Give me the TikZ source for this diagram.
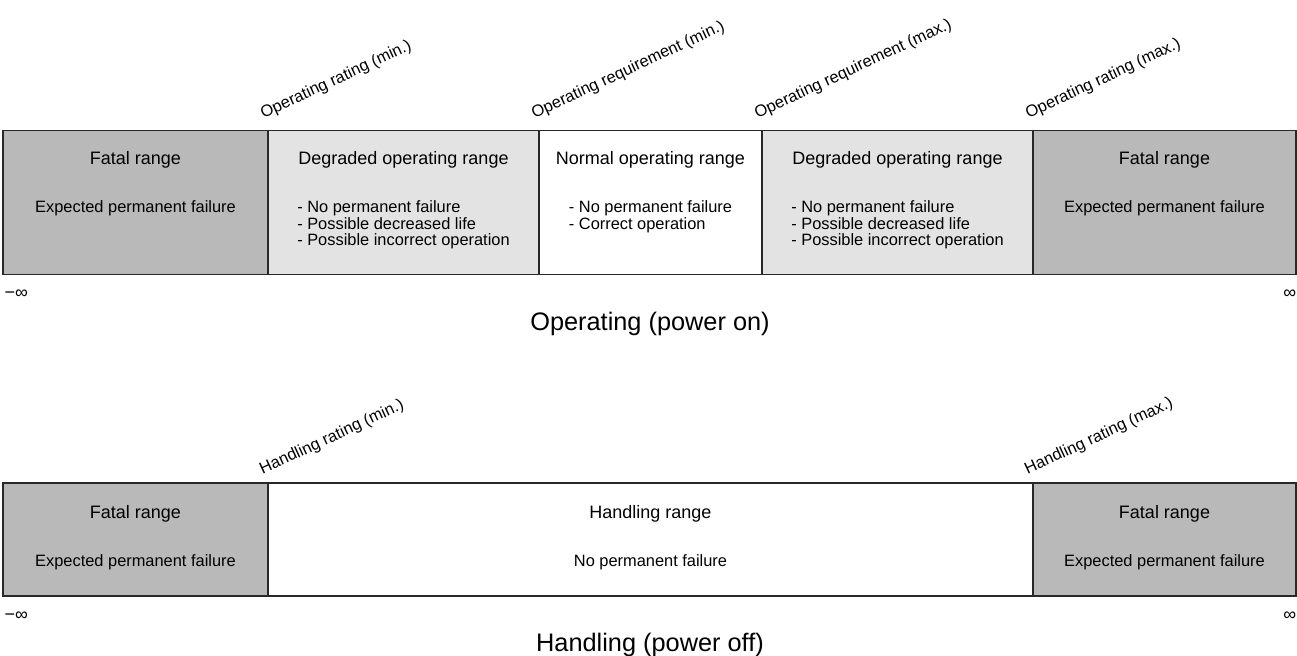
\documentclass[tikz,border=0pt]{standalone}
\usepackage{fontspec}
\setmainfont{Liberation Sans}
\definecolor{fatalgray}{RGB}{185,185,185}
\definecolor{degradedgray}{RGB}{227,227,227}
\definecolor{edgegray}{RGB}{40,40,40}
\tikzset{every picture/.style={line width=1.1pt}}
\tikzset{
  fatalbox/.style={draw=edgegray,fill=fatalgray},
  degradedbox/.style={draw=edgegray,fill=degradedgray},
  normalbox/.style={draw=edgegray,fill=white},
  boxtitle/.style={anchor=base,inner sep=0pt,font=\fontsize{13.5}{16}\selectfont},
  boxtext/.style={anchor=base,inner sep=0pt,align=left,font=\fontsize{12.3}{12.45}\selectfont},
  ratinglabel/.style={anchor=base west,inner sep=0pt,rotate=25,font=\fontsize{12.3}{14}\selectfont},
  rowtitle/.style={anchor=base,inner sep=0pt,font=\fontsize{19}{22}\selectfont},
  inftylabel/.style={inner sep=0pt,font=\fontsize{13.5}{16}\selectfont},
}
\begin{document}
\begin{tikzpicture}[x=0.75pt,y=0.75pt,yscale=-1,xscale=1]
  \useasboundingbox (0,0) rectangle (1297,656);
  %Operating row boxes
  \draw[fatalbox] (3,130.5) rectangle (268,274.5);
  \draw[degradedbox] (268,130.5) rectangle (539,274.5);
  \draw[normalbox] (539,130.5) rectangle (762,274.5);
  \draw[degradedbox] (762,130.5) rectangle (1033,274.5);
  \draw[fatalbox] (1033,130.5) rectangle (1296,274.5);

  % Text Node
  \node[ratinglabel] (oprmin) at (263,119) {Operating rating (min.)};
  \node[ratinglabel] (opqmin) at (534,119) {Operating requirement (min.)};
  \node[ratinglabel] (opqmax) at (757,119) {Operating requirement (max.)};
  \node[ratinglabel] (oprmax) at (1028,119) {Operating rating (max.)};

  % Text Node
  \node[boxtitle] (fatalL) at (135.5,165) {Fatal range};
  \node[boxtext] (fatalLtxt) at (135.5,213) {Expected permanent failure};
  \node[boxtitle] (degrL) at (403.5,165) {Degraded operating range};
  \node[boxtext] (degrLtxt) at (403.5,246) {- No permanent failure\\- Possible decreased life\\- Possible incorrect operation};
  \node[boxtitle] (normal) at (650.5,165) {Normal operating range};
  \node[boxtext] (normaltxt) at (650.5,229.5) {- No permanent failure\\- Correct operation};
  \node[boxtitle] (degrR) at (897.5,165) {Degraded operating range};
  \node[boxtext] (degrRtxt) at (897.5,246) {- No permanent failure\\- Possible decreased life\\- Possible incorrect operation};
  \node[boxtitle] (fatalR) at (1164.5,165) {Fatal range};
  \node[boxtext] (fatalRtxt) at (1164.5,213) {Expected permanent failure};

  \node[inftylabel,anchor=base west] (opminf) at (4,299) {−∞};
  \node[inftylabel,anchor=base east] (opinf) at (1297,299) {∞};
  \node[rowtitle] (optitle) at (650,330) {Operating (power on)};

  %Handling row boxes
  \draw[fatalbox] (3,483) rectangle (268,596);
  \draw[normalbox] (268,483) rectangle (1033,596);
  \draw[fatalbox] (1033,483) rectangle (1296,596);

  % Text Node
  \node[ratinglabel] (hdrmin) at (262,475) {Handling rating (min.)};
  \node[ratinglabel] (hdrmax) at (1027,475) {Handling rating (max.)};

  % Text Node
  \node[boxtitle] (hfatalL) at (135.5,518) {Fatal range};
  \node[boxtext] (hfatalLtxt) at (135.5,566) {Expected permanent failure};
  \node[boxtitle] (handling) at (650.5,518) {Handling range};
  \node[boxtext] (handlingtxt) at (650.5,566) {No permanent failure};
  \node[boxtitle] (hfatalR) at (1164.5,518) {Fatal range};
  \node[boxtext] (hfatalRtxt) at (1164.5,566) {Expected permanent failure};

  \node[inftylabel,anchor=base west] (hdminf) at (4,620) {−∞};
  \node[inftylabel,anchor=base east] (hdinf) at (1297,620) {∞};
  \node[rowtitle] (hdtitle) at (650,651) {Handling (power off)};
\end{tikzpicture}
\end{document}
